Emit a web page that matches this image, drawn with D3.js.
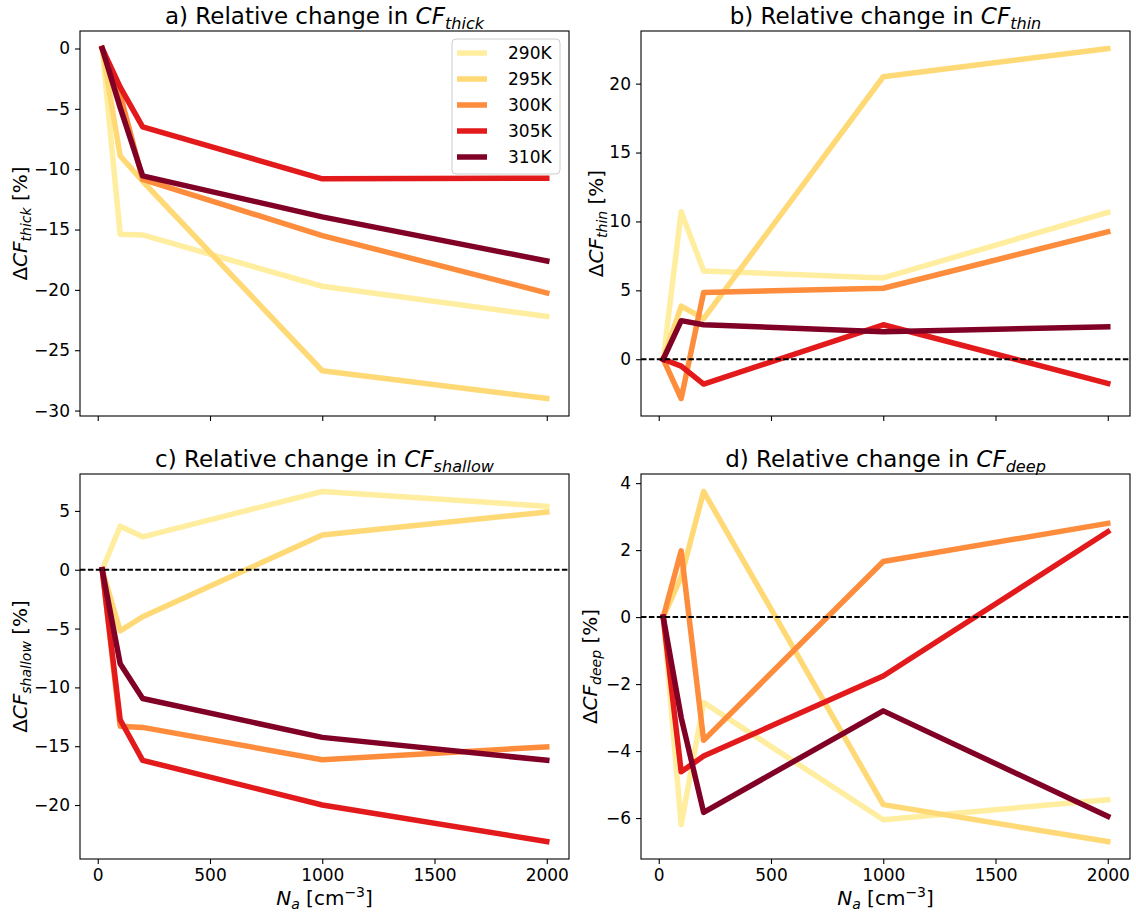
<!DOCTYPE html>
<html lang="en">
<head>
<meta charset="UTF-8">
<title>Relative change in cloud fraction</title>
<style>
  body { margin: 0; background: #fff; }
  svg text { font-family: 'DejaVu Sans', sans-serif; fill: #000; }
</style>
</head>
<body>
<div id="chart"></div>
<script src="https://d3js.org/d3.v7.min.js"></script>
<script>
// aerosol number concentration [cm^-3]
const naValues = [20, 100, 200, 1000, 2000];
const temps = ["290K", "295K", "300K", "305K", "310K"];
const tempColors = ["#ffeda0", "#fed976", "#fd8d3c", "#e31a1c", "#800026"];

// relative change [%], one row per temperature (290K ... 310K)
const cfThick = [
    [0, -15.4, -15.45, -19.7, -22.2],
    [0, -8.9, -11.0, -26.7, -29.0],
    [0, -3.8, -10.85, -15.5, -20.25],
    [0, -3.2, -6.5, -10.8, -10.75],
    [0, -4.9, -10.55, -13.95, -17.6]
];
const cfThin = [
    [0, 10.7, 6.4, 5.9, 10.65],
    [0, 3.85, 2.95, 20.5, 22.55],
    [0, -2.85, 4.85, 5.15, 9.25],
    [0, -0.5, -1.8, 2.5, -1.75],
    [0, 2.8, 2.5, 2.0, 2.35]
];
const cfShallow = [
    [0, 3.7, 2.8, 6.65, 5.4],
    [0, -5.2, -4.0, 2.95, 4.9],
    [0, -13.3, -13.4, -16.15, -15.05],
    [0, -12.75, -16.2, -20.0, -23.1],
    [0, -8.0, -10.95, -14.25, -16.2]
];
const cfDeep = [
    [0, -6.2, -2.55, -6.05, -5.45],
    [0, 1.2, 3.75, -5.6, -6.7],
    [0, 1.98, -3.68, 1.66, 2.8],
    [0, -4.62, -4.15, -1.76, 2.55],
    [0, -3.0, -5.83, -2.8, -5.95]
];

const xTicks = [0, 500, 1000, 1500, 2000];
const yTicksThick = [-30, -25, -20, -15, -10, -5, 0];
const yTicksThin = [0, 5, 10, 15, 20];
const yTicksShallow = [-20, -15, -10, -5, 0, 5];
const yTicksDeep = [-6, -4, -2, 0, 2, 4];

const panels = [
    { tag: "a)", sub: "thick", data: cfThick, yTicks: yTicksThick, zero: false, col: 0, row: 0, legend: true, labelX: 27 },
    { tag: "b)", sub: "thin", data: cfThin, yTicks: yTicksThin, zero: true, col: 1, row: 0, legend: false, labelX: 603 },
    { tag: "c)", sub: "shallow", data: cfShallow, yTicks: yTicksShallow, zero: true, col: 0, row: 1, legend: false, labelX: 27 },
    { tag: "d)", sub: "deep", data: cfDeep, yTicks: yTicksDeep, zero: true, col: 1, row: 1, legend: false, labelX: 597 }
];

const width = 1136, height = 918;
const colLeft = [80, 641], rowTop = [31, 474];
const plotW = 489, plotH = 385;

const tickFont = 17, labelFont = 20, titleFont = 23, legendFont = 17;

const svg = d3.select("#chart").append("svg")
    .attr("width", width)
    .attr("height", height);

// matplotlib-like padded extent
function padded(vals) {
    const [lo, hi] = d3.extent(vals);
    const m = (hi - lo) * 0.05;
    return [lo - m, hi + m];
}

// text with italic / sub / superscript pieces
function richText(sel, parts, size) {
    let cur = 0;
    parts.forEach(p => {
        const off = p.sub ? size * 0.2 : p.sup ? -size * 0.38 : 0;
        const ts = sel.append("tspan").attr("dy", off - cur).text(p.t);
        cur = off;
        if (p.it) ts.attr("font-style", "italic");
        if (p.sub || p.sup) ts.attr("font-size", size * 0.7);
    });
}

const minus = s => String(s).replace("-", "\u2212");

const x = d3.scaleLinear().domain(padded(naValues)).range([0, plotW]);

panels.forEach(p => {
    const left = colLeft[p.col], top = rowTop[p.row];
    const g = svg.append("g").attr("transform", `translate(${left},${top})`);
    const y = d3.scaleLinear().domain(padded(p.data.flat())).range([plotH, 0]);

    // lines
    const line = d3.line()
        .x((d, i) => x(naValues[i]))
        .y(d => y(d));

    g.selectAll("path.series")
        .data(p.data)
        .join("path")
        .attr("class", "series")
        .attr("d", line)
        .attr("fill", "none")
        .attr("stroke", (d, i) => tempColors[i])
        .attr("stroke-width", 5.5)
        .attr("stroke-linejoin", "round")
        .attr("stroke-linecap", "square");

    if (p.zero) {
        g.append("line")
            .attr("x1", 0).attr("x2", plotW)
            .attr("y1", y(0)).attr("y2", y(0))
            .attr("stroke", "#000")
            .attr("stroke-width", 2)
            .attr("stroke-dasharray", "5.5,2.4");
    }

    // axes
    const xAxis = d3.axisBottom(x).tickValues(xTicks).tickSize(5).tickPadding(5)
        .tickFormat(p.row === 1 ? d => d : () => "");
    const yAxis = d3.axisLeft(y).tickValues(p.yTicks).tickSize(5).tickPadding(5)
        .tickFormat(minus);

    const gx = g.append("g").attr("transform", `translate(0,${plotH})`).call(xAxis);
    const gy = g.append("g").call(yAxis);
    [gx, gy].forEach(ax => {
        ax.select(".domain").remove();
        ax.selectAll(".tick line").attr("stroke", "#000").attr("stroke-width", 1.1);
        ax.selectAll(".tick text").attr("font-size", tickFont)
            .attr("font-family", "'DejaVu Sans', sans-serif").attr("fill", "#000");
    });

    // frame
    g.append("rect")
        .attr("width", plotW).attr("height", plotH)
        .attr("fill", "none")
        .attr("stroke", "#000")
        .attr("stroke-width", 1.1);

    // title
    const title = g.append("text")
        .attr("x", plotW / 2).attr("y", -7)
        .attr("text-anchor", "middle")
        .attr("font-size", titleFont);
    richText(title, [
        { t: p.tag + " Relative change in " },
        { t: "CF", it: true },
        { t: p.sub, it: true, sub: true }
    ], titleFont);

    // y label
    const ylab = svg.append("text")
        .attr("transform", `translate(${p.labelX},${top + plotH / 2}) rotate(-90)`)
        .attr("text-anchor", "middle")
        .attr("font-size", labelFont);
    richText(ylab, [
        { t: "\u0394" },
        { t: "CF", it: true },
        { t: p.sub, it: true, sub: true },
        { t: " [%]" }
    ], labelFont);

    // x label
    if (p.row === 1) {
        const xlab = g.append("text")
            .attr("x", plotW / 2).attr("y", plotH + 46)
            .attr("text-anchor", "middle")
            .attr("font-size", labelFont);
        richText(xlab, [
            { t: "N", it: true },
            { t: "a", it: true, sub: true },
            { t: " [cm" },
            { t: "\u22123", sup: true },
            { t: "]" }
        ], labelFont);
    }

    if (p.legend) {
        const lg = g.append("g").attr("transform", `translate(${plotW - 117},8)`);
        lg.append("rect")
            .attr("width", 108).attr("height", 135)
            .attr("rx", 4)
            .attr("fill", "#fff").attr("fill-opacity", 0.8)
            .attr("stroke", "#cccccc").attr("stroke-width", 1);
        const item = lg.selectAll("g.item")
            .data(temps)
            .join("g")
            .attr("class", "item")
            .attr("transform", (d, i) => `translate(0,${14 + i * 26})`);
        item.append("line")
            .attr("x1", 5).attr("x2", 35)
            .attr("stroke", (d, i) => tempColors[i])
            .attr("stroke-width", 5.5);
        item.append("text")
            .attr("x", 56).attr("dy", "0.36em")
            .attr("font-size", legendFont)
            .text(d => d);
    }
});
</script>
</body>
</html>
